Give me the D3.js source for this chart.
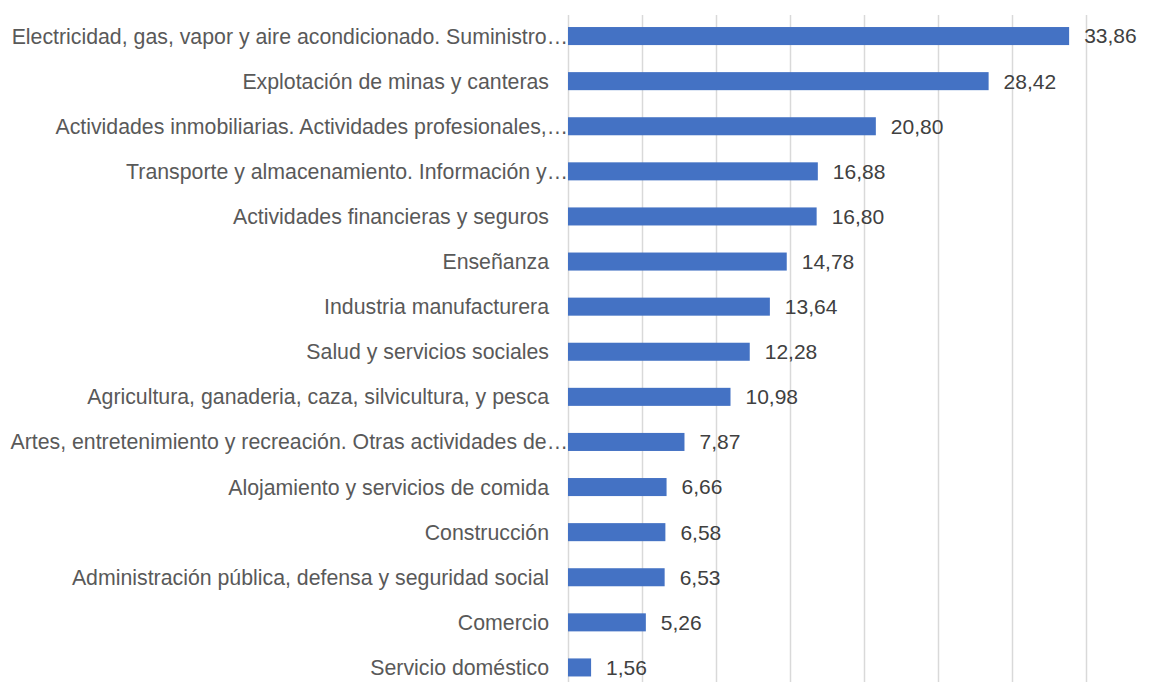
<!DOCTYPE html>
<html>
<head>
<meta charset="utf-8">
<script src="https://cdn.jsdelivr.net/npm/d3@7"></script>
<style>
  body { margin: 0; background: #fff; }
  text { font-family: "Liberation Sans", Arial, sans-serif; }
</style>
</head>
<body>
<svg width="1151" height="682"></svg>
<script>
var categories = [
  "Electricidad, gas, vapor y aire acondicionado. Suministro…",
  "Explotación de minas y canteras",
  "Actividades inmobiliarias. Actividades profesionales,…",
  "Transporte y almacenamiento. Información y…",
  "Actividades financieras y seguros",
  "Enseñanza",
  "Industria manufacturera",
  "Salud y servicios sociales",
  "Agricultura, ganaderia, caza, silvicultura, y pesca",
  "Artes, entretenimiento y recreación. Otras actividades de…",
  "Alojamiento y servicios de comida",
  "Construcción",
  "Administración pública, defensa y seguridad social",
  "Comercio",
  "Servicio doméstico"
];
var values = [33.86, 28.42, 20.80, 16.88, 16.80, 14.78, 13.64, 12.28, 10.98, 7.87, 6.66, 6.58, 6.53, 5.26, 1.56];
var gridTicks = [0, 5, 10, 15, 20, 25, 30, 35];

var width = 1151, height = 682;
var svg = d3.select('svg');

var x = d3.scaleLinear()
    .domain([0, 35])
    .range([568, 1086]);

var y = d3.scaleBand()
    .domain(categories)
    .range([13.5, 690])
    .paddingInner(0.6)
    .paddingOuter(0.3);

// gridlines
svg.append('g')
  .selectAll('line')
  .data(gridTicks)
  .enter().append('line')
  .attr('x1', d => Math.round(x(d)) + 0.5)
  .attr('x2', d => Math.round(x(d)) + 0.5)
  .attr('y1', 15)
  .attr('y2', height)
  .style('stroke', '#d9d9d9')
  .style('stroke-width', 1.5);

// bars
svg.append('g')
  .selectAll('rect')
  .data(values)
  .enter().append('rect')
  .attr('x', x(0))
  .attr('y', (d, i) => y(categories[i]))
  .attr('width', d => x(d) - x(0))
  .attr('height', y.bandwidth())
  .style('fill', '#4472c4');

// value labels
var fmt = d3.format('.2f');
svg.append('g')
  .selectAll('text')
  .data(values)
  .enter().append('text')
  .attr('x', d => x(d) + 15)
  .attr('y', (d, i) => y(categories[i]) + y.bandwidth() / 2)
  .attr('dy', '0.35em')
  .style('font-size', '21px')
  .style('fill', '#404040')
  .text(d => fmt(d).replace('.', ','));

// category labels
svg.append('g')
  .selectAll('text')
  .data(categories)
  .enter().append('text')
  .attr('x', d => d.endsWith('…') ? 568 : 549)
  .attr('y', d => y(d) + y.bandwidth() / 2)
  .attr('dy', '0.35em')
  .attr('text-anchor', 'end')
  .style('font-size', '21.3px')
  .style('fill', '#595959')
  .text(d => d);
</script>
</body>
</html>
